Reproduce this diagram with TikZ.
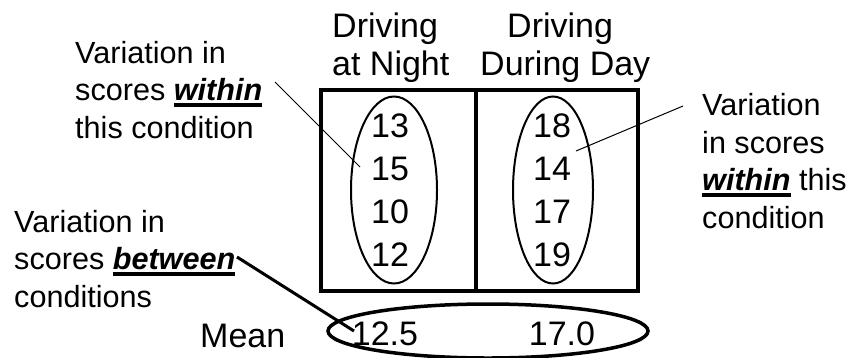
\documentclass[tikz,border=0pt]{standalone}
\usepackage{fontspec}
\setmainfont{Liberation Sans}
\usetikzlibrary{positioning}
\usetikzlibrary{shapes.geometric}

\newcommand{\ulword}[1]{\setbox0=\hbox{\bfseries\itshape #1}\rlap{\rule[-6pt]{\wd0}{3.5pt}}\box0\relax}

\begin{document}
\begin{tikzpicture}[x=1pt,y=-1pt,
    note/.style={align=left,inner sep=0,font=\fontsize{30.6}{37.5}\selectfont},
    big/.style={inner sep=0,font=\fontsize{34}{38}\selectfont},
    group/.style={draw,ellipse,line width=2,inner sep=0,minimum width=#1,minimum height=187pt},
    pointer/.style={line width=1}]
    \useasboundingbox (0,0) rectangle (848,357);

    % the two conditions
    \draw [line width=3.3] (321,90) rectangle (638,291);
    \draw [line width=3.3] (476,90) -- (476,291);
    \node [big,anchor=base west,align=left] (night) at (332,75) {Driving\\at Night};
    \node [big,anchor=base west,align=left] (day) at (480,75) {\hspace{27pt}Driving\\During Day};

    \foreach \v [count=\i] in {13,15,10,12}
      \node [big,anchor=base] (n\i) at (390,{137+43.3*(\i-1)}) {\v};
    \foreach \v [count=\i] in {18,14,17,19}
      \node [big,anchor=base] (d\i) at (552,{137+43.3*(\i-1)}) {\v};

    \node [group=86pt] (nightset) at (394,190) {};
    \node [group=80pt] (dayset) at (553,190) {};

    % means
    \node [big,anchor=base west] (mean) at (200,347) {Mean};
    \node [big,anchor=base] (m1) at (385,345) {12.5};
    \node [big,anchor=base] (m2) at (562,345) {17.0};
    \node [draw,ellipse,line width=3.5,inner sep=0,minimum width=320pt,minimum height=54pt] (means) at (488,331) {};

    % annotations
    \node [note,anchor=base west] (within1) at (75,138) {Variation in\\scores \ulword{within}\\this condition};
    \node [note,anchor=base west] (within2) at (702,228) {Variation\\in scores\\\ulword{within} this\\condition};
    \node [note,anchor=base west] (between) at (14,307) {Variation in\\scores \ulword{between}\\conditions};

    \coordinate (w1) at (275,82);
    \coordinate (w1end) at (360,167);
    \coordinate (w2) at (683,106);
    \coordinate (w2end) at (576,151);
    \coordinate (b) at (237,257);
    \coordinate (bend) at (354,331);
    \draw [pointer] (w1) -- (w1end);
    \draw [pointer] (w2) -- (w2end);
    \draw [line width=3] (b) -- (bend);
\end{tikzpicture}
\end{document}
